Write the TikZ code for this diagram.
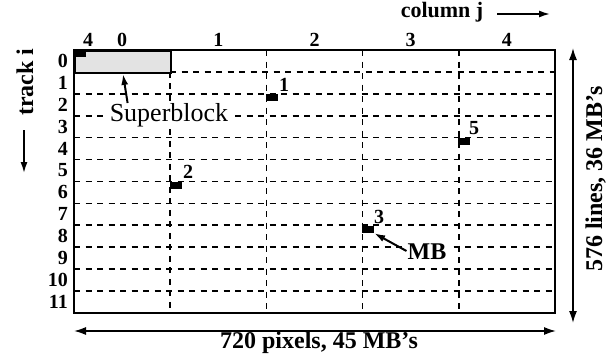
\documentclass[tikz,border=0pt]{standalone}
\usepackage{fontspec}
\setmainfont{Liberation Serif}
\usetikzlibrary{arrows.meta,calc}
\begin{document}
\begin{tikzpicture}[x=1pt,y=-1pt,
  dashln/.style={line width=1.6pt, dash pattern=on 6pt off 5.5pt},
  frame/.style={line width=2pt},
  blk/.style={fill=black, draw=none, minimum width=12pt, minimum height=7pt, inner sep=0pt},
  lbl/.style={font=\fontsize{20}{22}\selectfont\bfseries, inner sep=0pt},
  big/.style={font=\fontsize{24}{26}\selectfont\bfseries, inner sep=0pt},
  dim/.style={line width=1.6pt, {Latex[length=12pt,width=8pt]}-{Latex[length=12pt,width=8pt]}},
  ptr/.style={line width=2pt, -{Latex[length=11pt,width=7pt]}}
]
\useasboundingbox (0,0) rectangle (608,362);
% grid
\foreach \i in {2,...,11}
  \draw[dashln] (74,{50+21.9*\i}) -- (555,{50+21.9*\i});
\draw[dashln] (170,71.9) -- (555,71.9);
\draw[dashln] (170,71.9) -- (170,312.8);
\foreach \k in {2,3,4}
  \draw[dashln] ({74+96.2*\k},50) -- ({74+96.2*\k},312.8);
% superblock
\node[frame, draw, fill=gray!22, minimum width=96pt, minimum height=21.9pt, inner sep=0pt, anchor=north west] (super) at (74,50) {};
\draw[frame] (74,50) rectangle (555,312.8);
% blocks
\node[blk] (b0) at (80,53.5) {};
\node[blk] (b1) at (272,97.5) {};
\node[blk] (b2) at (176,185.5) {};
\node[blk] (b5) at (464,141) {};
\node[blk] (b3) at (368,229.5) {};
\node[lbl] (l1) at (284,85) {1};
\node[lbl] (l2) at (188,172) {2};
\node[lbl] (l5) at (474,128) {5};
\node[lbl] (l3) at (379,217) {3};
% labels
\node[font=\fontsize{26}{28}\selectfont, fill=white, inner sep=2pt] (sb) at (169,115) {Superblock};
\draw[ptr] ($(sb.north west)+(20,2)$) -- (super.south);
\node[big, fill=white, inner sep=2pt] (mb) at (427,252) {MB};
\draw[ptr] ($(mb.west)+(1,-1)$) -- (b3.south east);
% column labels
\node[lbl] (c4a) at (88,40) {4};
\node[lbl] (c0) at (122,40) {0};
\foreach \k in {1,2,3,4}
  \node[lbl] (c\k) at ({74+96.2*(\k+0.5)},40) {\k};
% row labels
\foreach \i in {0,...,11}
  \node[lbl, anchor=east] (r\i) at (68,{50+21.9*(\i+0.5)}) {\i};
% axis titles
\node[font=\fontsize{22}{24}\selectfont\bfseries, inner sep=0pt, anchor=base] (colj) at (442,17) {column j};
\coordinate (ca) at (497,14);
\coordinate (cb) at (550,14);
\draw[line width=1.6pt, -{Latex[length=11pt,width=7pt]}] (ca) -- (cb);
\node[big, rotate=90, anchor=base] (tracki) at (33,82) {track i};
\coordinate (ta) at (24,130);
\coordinate (tb) at (24,173);
\draw[line width=1.6pt, -{Latex[length=11pt,width=7pt]}] (ta) -- (tb);
% dimensions
\coordinate (hl) at (74,331);
\coordinate (hr) at (556,331);
\draw[dim] (hl) -- (hr);
\node[big, anchor=base] (wlab) at (319,348) {720 pixels, 45 MB’s};
\coordinate (vt) at (573,48);
\coordinate (vb) at (573,323);
\draw[dim] (vt) -- (vb);
\node[big, rotate=90, anchor=base] (hlab) at (602,179) {576 lines, 36 MB’s};
\end{tikzpicture}
\end{document}
